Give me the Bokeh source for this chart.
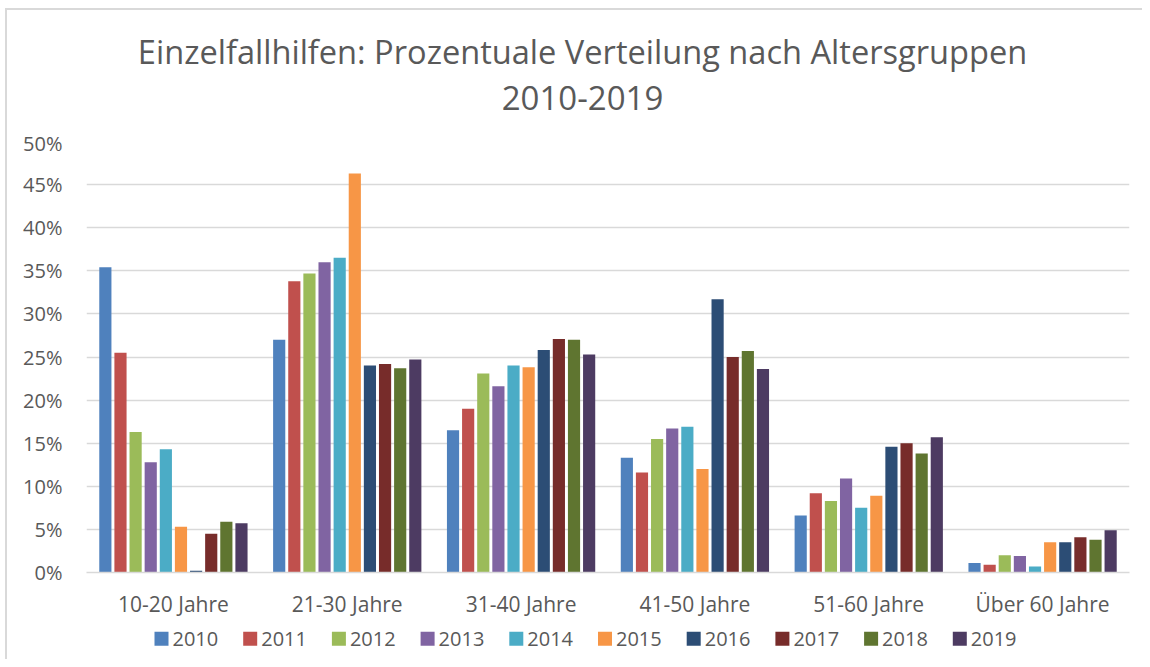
from bokeh.plotting import figure
from bokeh.layouts import column
from bokeh.models import (ColumnDataSource, FactorRange, Range1d, FixedTicker,
                          PrintfTickFormatter)
from bokeh.core.properties import value
from bokeh.transform import dodge
from bokeh.embed import file_html
from bokeh.resources import INLINE

title_lines = ["Einzelfallhilfen: Prozentuale Verteilung nach Altersgruppen", "2010-2019"]
categories = ["10-20 Jahre", "21-30 Jahre", "31-40 Jahre",
              "41-50 Jahre", "51-60 Jahre", "Über 60 Jahre"]
years = ["2010", "2011", "2012", "2013", "2014",
         "2015", "2016", "2017", "2018", "2019"]

v2010 = [35.4, 27.0, 16.5, 13.3, 6.6, 1.1]
v2011 = [25.5, 33.8, 19.0, 11.6, 9.2, 0.9]
v2012 = [16.3, 34.7, 23.1, 15.5, 8.3, 2.0]
v2013 = [12.8, 36.0, 21.6, 16.7, 10.9, 1.9]
v2014 = [14.3, 36.5, 24.0, 16.9, 7.5, 0.7]
v2015 = [5.3, 46.3, 23.8, 12.0, 8.9, 3.5]
v2016 = [0.2, 24.0, 25.8, 31.7, 14.6, 3.5]
v2017 = [4.5, 24.2, 27.1, 25.0, 15.0, 4.1]
v2018 = [5.9, 23.7, 27.0, 25.7, 13.8, 3.8]
v2019 = [5.7, 24.7, 25.3, 23.6, 15.7, 4.9]

series = [v2010, v2011, v2012, v2013, v2014, v2015, v2016, v2017, v2018, v2019]
colors = ["#4F81BD", "#C0504D", "#9BBB59", "#8064A2", "#4BACC6",
          "#F79646", "#2C4D75", "#772C2A", "#5F7530", "#4D3B62"]
y_ticks = [0, 5, 10, 15, 20, 25, 30, 35, 40, 45, 50]

TXT = "#595959"
FONT = "Open Sans"
W = 1135
FRAME_L, FRAME_R = 86, 1129   # page x of the plotting frame (shared by all rows)


def strip(height, y0):
    f = figure(width=W, height=height, x_range=Range1d(FRAME_L, FRAME_R),
               y_range=Range1d(y0 + height, y0),
               output_backend="svg", toolbar_location=None, title=None, min_border=0)
    f.axis.visible = False
    f.grid.visible = False
    f.outline_line_color = None
    return f


# ---- title strip (page y 10..129) ----
head = strip(119, 10)
head.text(x=[582, 582], y=[51, 97], text=title_lines, text_align="center",
          text_baseline="alphabetic", text_font=value(FONT),
          text_font_size=["32.6px", "33px"], text_color=TXT)

# ---- main chart ----
data = {"cat": categories}
for yname, vals in zip(years, series):
    data[yname] = vals
source = ColumnDataSource(data)

p = figure(x_range=FactorRange(*categories), y_range=Range1d(0, 50),
           width=W, height=491, output_backend="svg", toolbar_location=None,
           title=None, min_border_left=79, min_border_right=13,
           min_border_top=12, min_border_bottom=48)

slot = 0.087
for i, (yname, col) in enumerate(zip(years, colors)):
    off = (i - 4.5) * slot
    p.vbar(x=dodge("cat", off, range=p.x_range), top=yname, width=0.07,
           source=source, fill_color=col, line_color=None)

p.outline_line_color = None
p.xgrid.grid_line_color = None
p.ygrid.grid_line_color = "#d9d9d9"
p.ygrid.grid_line_width = 1.3
p.yaxis.ticker = FixedTicker(ticks=y_ticks)
p.yaxis.formatter = PrintfTickFormatter(format="%d%%")
p.yaxis.axis_line_color = None
p.yaxis.major_tick_line_color = None
p.yaxis.minor_tick_line_color = None
p.yaxis.major_label_standoff = 18
p.xaxis.axis_line_color = "#d9d9d9"
p.xaxis.axis_line_width = 1.3
p.xaxis.major_tick_line_color = None
p.xaxis.major_label_standoff = 11
p.xaxis.major_label_text_font_size = "21px"
p.yaxis.major_label_text_font_size = "20px"
for ax in (p.xaxis, p.yaxis):
    ax.major_label_text_font = FONT
    ax.major_label_text_color = TXT

# ---- legend strip (page y 620..659) ----
lg = strip(39, 620)
pitch = 88.7
sq_x = [161 + i * pitch for i in range(len(years))]
tx_x = [172 + i * pitch for i in range(len(years))]
lg.scatter(x=sq_x, y=[638.3] * len(years), marker="square", size=14,
           fill_color=colors, line_color=None)
lg.text(x=tx_x, y=[638] * len(years), text=years, text_align="left",
        text_baseline="alphabetic", text_font=value(FONT), text_font_size="20px",
        text_color=TXT)

layout = column(head, p, lg, spacing=0, margin=(8, 0, 0, 5),
                styles={"border-left": "2px solid #d9d9d9", "border-top": "2px solid #d9d9d9"})
open("out.html", "w").write(file_html(layout, INLINE))
